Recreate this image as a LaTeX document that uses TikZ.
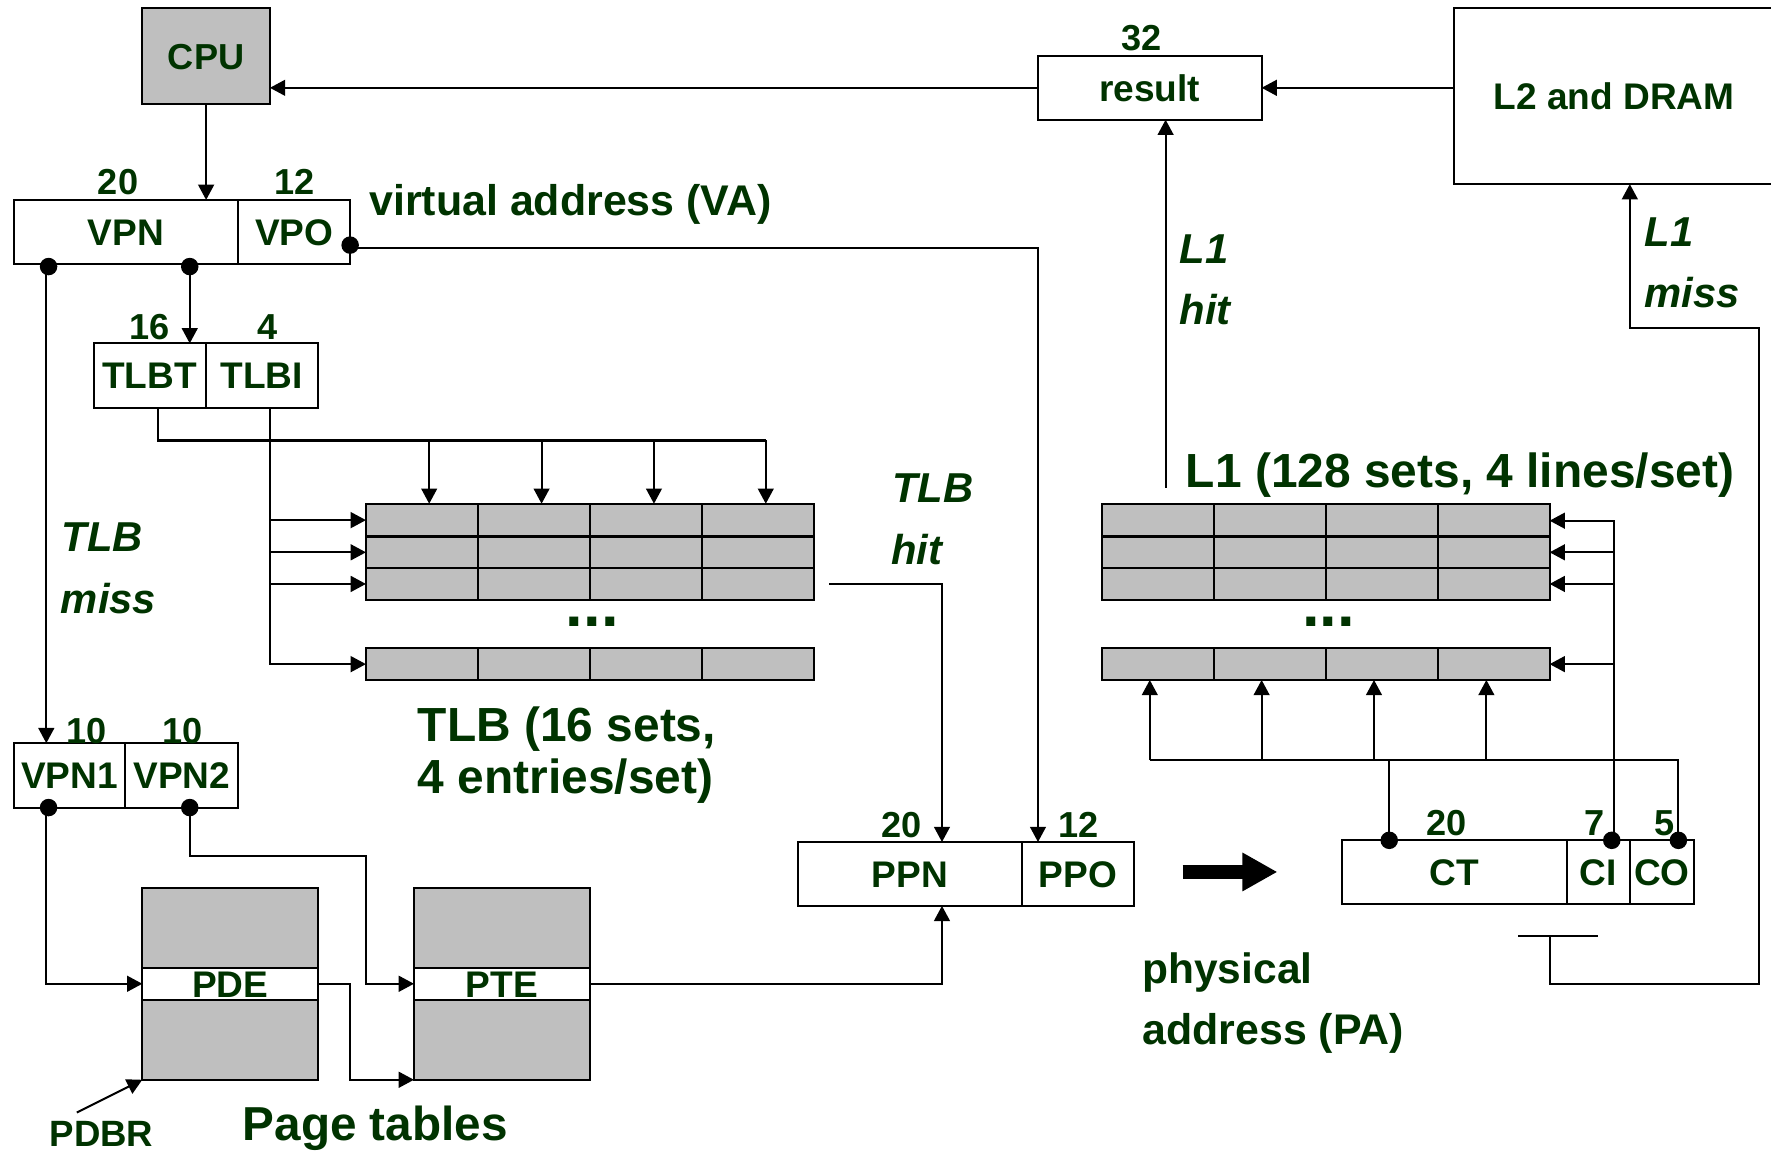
\documentclass[tikz,border=0pt]{standalone}
\usepackage{fontspec}
\setmainfont{Liberation Sans}
\usetikzlibrary{arrows.meta}
\definecolor{txt}{HTML}{003300}
\definecolor{gry}{HTML}{BFBFBF}
\newcommand\szf[1]{\fontsize{#1}{#1}\selectfont}
\newcommand\bx[7]{\node[boxn,minimum width={(#4-#2)*1pt},minimum height={(#5-#3)*1pt},#6] (#1) at ({(#2+#4)/2},{(#3+#5)/2}) {#7};}
\tikzset{
  x=1pt,y=-1pt,
  wire/.style={line width=1.8pt,draw=black},
  arr/.style={wire,-{Triangle[length=13.5pt,width=14pt]}},
  boxn/.style={draw=black,line width=1.8pt,inner sep=0pt,outer sep=0pt,text=txt,font=\bfseries\szf{32.8},text height=23.5pt,text depth=0pt},
  cell/.style={fill=gry},
  band/.style={fill=white},
  num/.style={inner sep=0pt,outer sep=0pt,text=txt,font=\bfseries\szf{32},text height=23pt,text depth=0pt},
  lab/.style={inner sep=0pt,outer sep=0pt,text=txt,anchor=base west,font=\bfseries\szf{#1}},
  ital/.style={inner sep=0pt,outer sep=0pt,text=txt,anchor=base west,font=\bfseries\itshape\szf{37}},
  dotn/.style={circle,fill=black,minimum size=15.5pt,inner sep=0pt,outer sep=0pt},
}
\begin{document}
\begin{tikzpicture}
\fill[white] (0,0) rectangle (1568,1020);
\useasboundingbox (0,0) rectangle (1568,1020);
\clip (0,0) rectangle (1568,1020);

% boxes
\bx{cpu}{126}{7}{239}{92}{fill=gry,font=\bfseries\szf{32}}{CPU}
\bx{vpn}{12}{177}{211}{234}{}{VPN}
\bx{vpo}{211}{177}{310}{234}{}{VPO}
\bx{tlbt}{83}{304}{182}{361}{}{TLBT}
\bx{tlbi}{182}{304}{281.5}{361}{}{TLBI}
\bx{vpna}{12}{658}{111}{715}{}{VPN1}
\bx{vpnb}{111}{658}{211}{715}{}{VPN2}
\bx{result}{919}{49.5}{1117}{106}{}{result}
\bx{ltwo}{1287}{7}{1571}{163}{draw=none}{L2 and DRAM}
\draw[wire] (ltwo.north east) -- (ltwo.north west) -- (ltwo.south west) -- (ltwo.south east);
\bx{ppn}{706.5}{745.5}{905}{802}{}{PPN}
\bx{ppo}{905}{745.5}{1004}{802}{}{PPO}
\bx{ct}{1188}{744}{1387}{800}{}{CT}
\bx{ci}{1387}{744}{1443}{800}{}{CI}
\bx{co}{1443}{744}{1500}{800}{}{CO}

% TLB and L1 grids
\foreach \c/\a/\b in {1/324/423,2/423/522,3/522/621.5,4/621.5/721}
  \foreach \r/\p/\q in {1/446/475,2/475/503,3/503/531,4/574/602}
    {\bx{t\r\c}{\a}{\p}{\b}{\q}{cell}{}}
\foreach \c/\a/\b in {1/975.5/1075,2/1075/1174,3/1174/1273,4/1273/1372}
  \foreach \r/\p/\q in {1/446/475,2/475/503,3/503/531,4/574/602}
    {\bx{l\r\c}{\a}{\p}{\b}{\q}{cell}{}}

% page tables
\bx{pdet}{126}{786}{281.5}{857}{cell}{}
\bx{pde}{126}{857}{281.5}{885}{band}{PDE}
\bx{pdeb}{126}{885}{281.5}{956}{cell}{}
\bx{ptet}{366.5}{786}{522}{857}{cell}{}
\bx{pte}{366.5}{857}{522}{885}{band}{PTE}
\bx{pteb}{366.5}{885}{522}{956}{cell}{}

% number labels
\node[num] (n1) at (104.5,161) {20};
\node[num] (n2) at (261,161) {12};
\node[num] (n3) at (132.5,289) {16};
\node[num] (n4) at (236.5,289) {4};
\node[num] (n5) at (76.5,647) {10};
\node[num] (n6) at (161.5,647) {10};
\node[num] (n7) at (1011,33) {32};
\node[num] (n8) at (798.5,730) {20};
\node[num] (n9) at (955,730) {12};
\node[num] (n10) at (1280.5,728) {20};
\node[num] (n11) at (1412,728) {7};
\node[num] (n12) at (1474,728) {5};

% text labels
\node[lab=38] (va) at (327,191) {virtual address (VA)};
\node[lab=42.4] (ltitle) at (1050,432) {L1 (128 sets, 4 lines/set)};
\node[lab=42.4] (tlba) at (370,656.5) {TLB (16 sets,};
\node[lab=42.4] (tlbb) at (370,702.5) {4 entries/set)};
\node[lab=42.2] (pt) at (215,1010) {Page tables};
\node[lab=32.4] (pdbr) at (44,1015.5) {PDBR};
\node[lab=37.6] (pa1) at (1011.5,870.5) {physical};
\node[lab=38] (pa2) at (1011.5,924.5) {address (PA)};
\node[ital] (i1) at (54.5,488) {TLB};
\node[ital] (i2) at (54,543) {miss};
\node[ital] (i3) at (790,445) {TLB};
\node[ital] (i4) at (789,499.5) {hit};
\node[ital] (i5) at (1044.5,233) {L1};
\node[ital] (i6) at (1044.5,287.5) {hit};
\node[ital] (i7) at (1456,218) {L1};
\node[ital] (i8) at (1456,272.5) {miss};
\node[lab=56] (dots1) at (501,555) {...};
\node[lab=56] (dots2) at (1153,555) {...};

% dots
\node[dotn] (da) at (43,236) {};
\node[dotn] (db) at (168,236) {};
\node[dotn] (dc) at (310,217) {};
\node[dotn] (dd) at (43,715) {};
\node[dotn] (de) at (168,715) {};
\node[dotn] (df) at (1230,744) {};
\node[dotn] (dg) at (1427,744) {};
\node[dotn] (dh) at (1486,744) {};

% helper coordinates
\coordinate (vpoout) at (310,219.5);
\coordinate (vpoel) at (919,219.5);
\coordinate (missx) at (41,236);
\coordinate (tagx) at (140,361);
\coordinate (tagy) at (140,390);
\coordinate (idxx) at (239,361);
\coordinate (tagend) at (678,390);
\coordinate (ta) at (380,390);
\coordinate (tb) at (479.5,390);
\coordinate (tc) at (579,390);
\coordinate (hita) at (1032,432);
\coordinate (hitx) at (734,517);
\coordinate (hite) at (834,517);
\coordinate (tbara) at (1344,828.5);
\coordinate (tbarb) at (1415,828.5);
\coordinate (tbarm) at (1372,828.5);
\coordinate (ma) at (1372,871);
\coordinate (mb) at (1557,871);
\coordinate (mc) at (1557,290);
\coordinate (md) at (1443,290);
\coordinate (vb) at (168,758);
\coordinate (vc) at (324,758);
\coordinate (vd) at (324,871);
\coordinate (ve) at (310,871);
\coordinate (vf) at (310,956);
\coordinate (pd) at (68,985);
\coordinate (busl) at (1429,461);
\coordinate (h1) at (1018,673);
\coordinate (h2) at (1117,673);
\coordinate (h3) at (1216.5,673);
\coordinate (h4) at (1316,673);
\coordinate (h5) at (1486,673);
\coordinate (bigs) at (1047,772);
\coordinate (bige) at (1131,772);
\coordinate (vgx) at (41,715);

% top connectors
\draw[arr] (cpu.south) -- (cpu.south |- vpn.north);
\draw[arr] (result.west) -- (result.west -| cpu.east);
\draw[arr] (result.east -| ltwo.west) -- (result.east);
\draw[arr] (hita) -- (hita |- result.south);
\draw[arr] (tbarm) -- (ma) -- (mb) -- (mc) -- (md) -- (md |- ltwo.south);
\draw[wire] (tbara) -- (tbarb);
\draw[arr] (vpoout) -- (vpoel) -- (vpoel |- ppo.north);
\draw[arr] (db) -- (db |- tlbt.north);
\draw[arr] (missx) -- (missx |- vpna.north);

% TLB
\draw[wire] (tagx) -- (tagy) -- (tagend);
\draw[arr] (ta) -- (ta |- t11.north);
\draw[arr] (tb) -- (tb |- t11.north);
\draw[arr] (tc) -- (tc |- t11.north);
\draw[arr] (tagend) -- (tagend |- t11.north);
\draw[arr] (idxx) -- (idxx |- t41.west) -- (t41.west);
\draw[arr] (t11.west -| idxx) -- (t11.west);
\draw[arr] (t21.west -| idxx) -- (t21.west);
\draw[arr] (t31.west -| idxx) -- (t31.west);
\draw[arr] (hitx) -- (hite) -- (hite |- ppn.north);

% L1
\draw[arr] (dg.north -| busl) -- (busl) -- (busl -| l14.east);
\draw[arr] (l24.east -| busl) -- (l24.east);
\draw[arr] (l34.east -| busl) -- (l34.east);
\draw[arr] (l44.east -| busl) -- (l44.east);
\draw[wire] (h1) -- (h5) -- (dh);
\draw[wire] (df) -- (df |- h1);
\draw[arr] (h1) -- (h1 |- l41.south);
\draw[arr] (h2) -- (h2 |- l41.south);
\draw[arr] (h3) -- (h3 |- l41.south);
\draw[arr] (h4) -- (h4 |- l41.south);

% page walk
\draw[arr] (vgx) -- (vgx |- pde.west) -- (pde.west);
\draw[arr] (de) -- (vb) -- (vc) -- (vd) -- (pte.west);
\draw[arr] (pde.east) -- (ve) -- (vf) -- (pteb.south west);
\draw[arr] (pd) -- (pdeb.south west);
\draw[arr] (pte.east) -- (pte.east -| hite) -- (hite |- ppn.south);

% big arrow
\draw[line width=12pt,-{Triangle[length=31pt,width=32pt]}] (bigs) -- (bige);
\end{tikzpicture}
\end{document}
